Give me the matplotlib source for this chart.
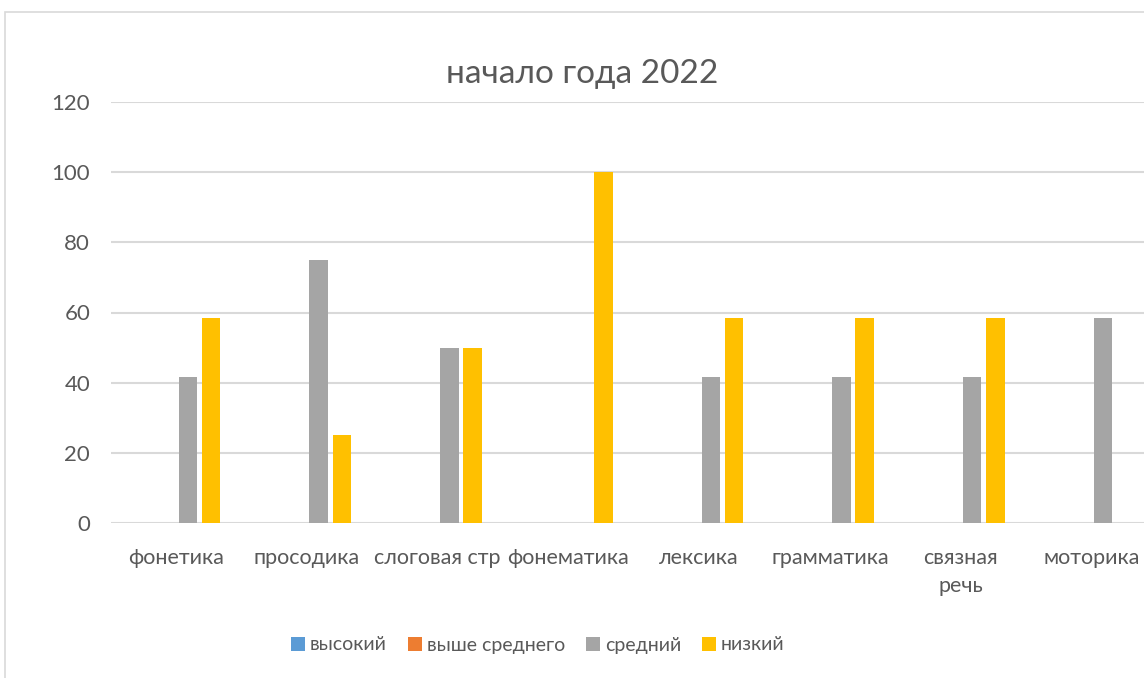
import numpy as np
import matplotlib.pyplot as plt
from matplotlib.patches import Rectangle

plt.rcParams['font.family'] = ['Lato', 'DejaVu Sans']

# data
categories = ['фонетика', 'просодика', 'слоговая стр', 'фонематика', 'лексика',
              'грамматика', 'связная\nречь', 'моторика']
series_names = ['высокий', 'выше среднего', 'средний', 'низкий']
vysokiy = [0, 0, 0, 0, 0, 0, 0, 0]
vyshe_srednego = [0, 0, 0, 0, 0, 0, 0, 0]
sredniy = [41.67, 75, 50, 0, 41.67, 41.67, 41.67, 58.33]
nizkiy = [58.33, 25, 50, 100, 58.33, 58.33, 58.33, 0]
colors = ['#5B9BD5', '#ED7D31', '#A5A5A5', '#FFC000']

text_color = '#595959'
grid_color = '#D9D9D9'

W, H = 1144, 678
fig = plt.figure(figsize=(W / 100, H / 100), dpi=100)

# chart frame (runs off the right/bottom edge like the screenshot)
fig.patches.append(Rectangle((5 / W, -0.1), 1.2, 1 - 12 / H + 0.1,
                             transform=fig.transFigure, fill=False,
                             edgecolor=grid_color, linewidth=1.2))

# plot area extends past the right edge
ax = fig.add_axes([111 / W, 155.3 / H, 1045.6 / W, 420.4 / H])

x = np.arange(len(categories))
step = 0.178
width = 0.1415
all_series = [vysokiy, vyshe_srednego, sredniy, nizkiy]
for i, (vals, name, c) in enumerate(zip(all_series, series_names, colors)):
    ax.bar(x + (i - 1.5) * step, vals, width, color=c, label=name, zorder=3)

ax.set_xlim(-0.5, 7.5)
ax.set_ylim(0, 120)
ax.set_yticks(range(0, 121, 20))
ax.yaxis.grid(True, color=grid_color, linewidth=1.5, zorder=0)
for s in ax.spines.values():
    s.set_visible(False)
ax.tick_params(axis='both', length=0, colors=text_color)
ax.tick_params(axis='y', pad=15, labelsize=16)
ax.tick_params(axis='x', pad=18, labelsize=15.5)
ax.set_xticks(x)
ax.set_xticklabels(categories, va='top', linespacing=1.55)

fig.text(582 / W, 1 - 74 / H, 'начало года 2022', ha='center', va='center',
         fontsize=24, color=text_color)

handles, labels = ax.get_legend_handles_labels()
fig.legend(handles, labels, loc='center', bbox_to_anchor=(538 / W, 1 - 645 / H),
           ncol=4, frameon=False, fontsize=14, handlelength=0.7, handleheight=0.7,
           handletextpad=0.25, columnspacing=1.1, labelcolor=text_color)

fig.savefig('out.png', dpi=100)
